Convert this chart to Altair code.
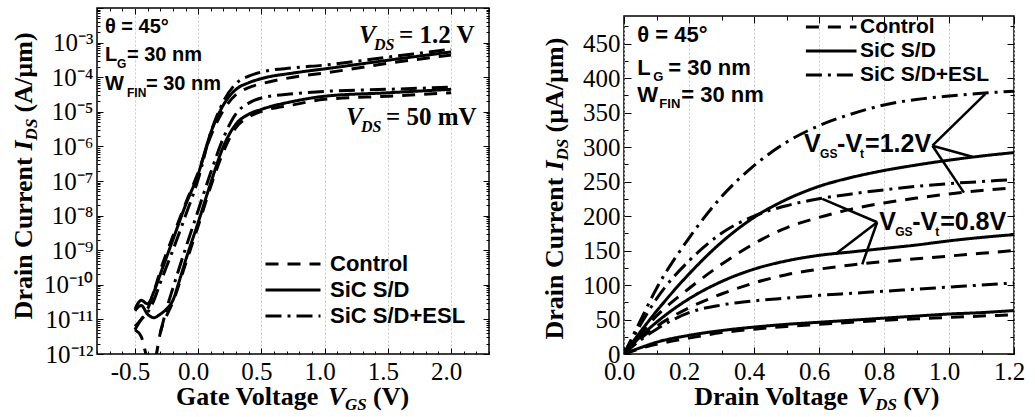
import altair as alt
import pandas as pd

SERIES = ["Control", "SiC S/D", "SiC S/D+ESL"]
DASHES = [[13, 9], [1, 0], [16, 6, 3, 6]]

# ---------------- Left panel: log10(I_DS [A/um]) vs V_GS [V] ----------------
L_CTRL_HI_V = [-0.5, -0.45, -0.4, -0.35, -0.3, -0.2, -0.1, 0.0, 0.1, 0.2, 0.3, 0.4, 0.5, 0.75, 1.0, 1.5, 2.0]
L_CTRL_HI_LOG = [-11.2, -11.0, -10.7, -10.2, -9.6, -8.6, -7.65, -6.75, -5.7, -4.95, -4.5, -4.3, -4.19, -4.0, -3.88, -3.6, -3.36]
L_SIC_HI_V = [-0.5, -0.45, -0.4, -0.35, -0.3, -0.2, -0.1, 0.0, 0.1, 0.2, 0.3, 0.4, 0.5, 0.75, 1.0, 1.5, 2.0]
L_SIC_HI_LOG = [-10.7, -10.45, -10.55, -10.2, -9.7, -8.7, -7.7, -6.8, -5.6, -4.8, -4.35, -4.16, -4.04, -3.88, -3.76, -3.51, -3.27]
L_ESL_HI_V = [-0.5, -0.45, -0.4, -0.35, -0.3, -0.2, -0.1, 0.0, 0.1, 0.2, 0.3, 0.4, 0.5, 0.75, 1.0, 1.5, 2.0]
L_ESL_HI_LOG = [-11.3, -11.0, -10.8, -10.45, -9.95, -9.0, -8.0, -6.95, -5.6, -4.7, -4.18, -3.97, -3.85, -3.73, -3.65, -3.42, -3.19]

L_CTRL_LO_V = [-0.5, -0.45, -0.42, -0.4, -0.37, -0.33, -0.3, -0.25, -0.2, -0.1, 0.0, 0.1, 0.2, 0.3, 0.4, 0.5, 0.75, 1.0, 1.5, 2.0]
L_CTRL_LO_LOG = [-11.3, -11.5, -11.9, -12.2, -12.6, -12.0, -11.4, -10.9, -10.5, -9.4, -8.3, -7.15, -6.15, -5.45, -5.15, -4.99, -4.8, -4.64, -4.55, -4.45]
L_SIC_LO_V = [-0.5, -0.45, -0.4, -0.35, -0.3, -0.25, -0.2, -0.15, -0.1, 0.0, 0.1, 0.2, 0.3, 0.4, 0.5, 0.75, 1.0, 1.5, 2.0]
L_SIC_LO_LOG = [-10.75, -10.6, -10.85, -10.95, -10.85, -10.7, -10.45, -9.9, -9.3, -8.2, -7.05, -6.0, -5.35, -5.07, -4.93, -4.7, -4.55, -4.45, -4.35]
L_ESL_LO_V = [-0.3, -0.25, -0.2, -0.1, 0.0, 0.1, 0.2, 0.3, 0.4, 0.5, 0.75, 1.0, 1.5, 2.0]
L_ESL_LO_LOG = [-11.4, -10.7, -10.1, -8.95, -7.85, -6.75, -5.75, -5.05, -4.75, -4.6, -4.48, -4.41, -4.35, -4.29]

# ---------------- Right panel: I_DS [uA/um] vs V_DS [V] ----------------
R_V = [0.0, 0.05, 0.1, 0.2, 0.3, 0.4, 0.5, 0.6, 0.7, 0.8, 0.9, 1.0, 1.1, 1.2]
R_ESL_12 = [0, 48, 95, 168, 228, 273, 307, 331, 348, 361, 369, 374, 378, 381]
R_SIC_12 = [0, 32, 62, 116, 162, 198, 224, 243, 256, 266, 274, 281, 287, 292]
R_CTRL_12 = [0, 29, 55, 95, 130, 160, 183, 198, 210, 219, 226, 232, 237, 241]
R_ESL_08 = [0, 42, 80, 135, 175, 200, 215, 225, 232, 238, 243, 247, 250, 253]
R_SIC_08 = [0, 25, 46, 80, 105, 123, 135, 143, 148, 153, 158, 164, 169, 173]
R_CTRL_08 = [0, 22, 40, 67, 87, 103, 115, 123, 129, 134, 138, 142, 146, 150]
R_ESL_04 = [0, 20, 36, 60, 71, 77, 81, 85, 88, 91, 94, 97, 100, 103]
R_SIC_04 = [0, 9, 17, 27, 34, 39, 43, 46, 49, 52, 55, 58, 60, 63]
R_CTRL_04 = [0, 8, 14, 23, 31, 36, 40, 43, 46, 49, 51, 53, 55, 57]

# pointer lines of the right panel annotations (tip -> curve)
P12_TIP = [0.949, 302]
P12_END_V = [1.112, 1.072, 1.046]
P12_END_I = [377, 286, 234]
P08_TIP = [0.779, 191]
P08_END_V = [0.610, 0.651, 0.733]
P08_END_I = [225, 145, 130]

# axis titles (text, font size, italic, offset along the text, offset across it)
Y_TITLE_L = [("Drain Current", 26, False, 0, 0), ("I", 26, True, 169, 0), ("DS", 17, True, 179, 8),
             ("(A/µm)", 26, False, 207, 0)]
Y_TITLE_R = [("Drain Current", 26, False, 0, 0), ("I", 26, True, 169, 0), ("DS", 17, True, 179, 8),
             ("(µA/µm)", 26, False, 207, 0)]
X_TITLE_L = [("Gate Voltage", 26, False, 0, 0), ("V", 26, True, 152, 0), ("GS", 17, True, 169, 8),
             ("(V)", 26, False, 197, 0)]
X_TITLE_R = [("Drain Voltage", 26, False, 0, 0), ("V", 26, True, 163, 0), ("DS", 17, True, 181, 8),
             ("(V)", 26, False, 209, 0)]

SANS = "Liberation Sans"
SERIF = "Liberation Serif"
LEGEND_LINE = "M-3.4,0H1"


def curves_df(curves, log=False):
    rows = []
    for cid, (series, xs, ys) in enumerate(curves):
        for xv, yv in zip(xs, ys):
            rows.append({"curve": cid, "series": series, "x": xv,
                         "y": 10 ** yv if log else yv})
    return pd.DataFrame(rows)


left_df = curves_df([
    ("Control", L_CTRL_HI_V, L_CTRL_HI_LOG),
    ("SiC S/D", L_SIC_HI_V, L_SIC_HI_LOG),
    ("SiC S/D+ESL", L_ESL_HI_V, L_ESL_HI_LOG),
    ("Control", L_CTRL_LO_V, L_CTRL_LO_LOG),
    ("SiC S/D", L_SIC_LO_V, L_SIC_LO_LOG),
    ("SiC S/D+ESL", L_ESL_LO_V, L_ESL_LO_LOG),
], log=True)

right_df = curves_df([
    ("SiC S/D+ESL", R_V, R_ESL_12), ("SiC S/D", R_V, R_SIC_12), ("Control", R_V, R_CTRL_12),
    ("SiC S/D+ESL", R_V, R_ESL_08), ("SiC S/D", R_V, R_SIC_08), ("Control", R_V, R_CTRL_08),
    ("SiC S/D+ESL", R_V, R_ESL_04), ("SiC S/D", R_V, R_SIC_04), ("Control", R_V, R_CTRL_04),
])


def tick_layer(df, xs, ys, xo, yo, xvals, yvals, size):
    return alt.Chart(df).mark_point(opacity=0, clip=True).encode(
        x=alt.X("x:Q", scale=xs, axis=alt.Axis(orient=xo, values=xvals, tickSize=size, offset=-size,
                                               labels=False, domain=False, grid=False, title=None,
                                               tickColor="black", tickWidth=1)),
        y=alt.Y("y:Q", scale=ys, axis=alt.Axis(orient=yo, values=yvals, tickSize=size, offset=-size,
                                               labels=False, domain=False, grid=False, title=None,
                                               tickColor="black", tickWidth=1)),
    )


def text_piece(xv, yv, text, xs, ys, font, size, dx=0, dy=0, italic=False, angle=0):
    return alt.Chart(pd.DataFrame({"x": [xv], "y": [yv], "t": [text]})).mark_text(
        align="left", baseline="middle", font=font, fontSize=size, fontWeight="bold",
        fontStyle="italic" if italic else "normal", dx=dx, dy=dy, color="black", angle=angle
    ).encode(x=alt.X("x:Q", scale=xs, axis=None), y=alt.Y("y:Q", scale=ys, axis=None), text="t:N")


def title_pieces(xv, yv, pieces, xs, ys, angle=0):
    return [text_piece(xv, yv, t, xs, ys, SERIF, s, dx=dx, dy=dy, italic=it, angle=angle)
            for (t, s, it, dx, dy) in pieces]


def info_block(xv, ys_vals, xs, ys, size, sub, dxs):
    parts = [text_piece(xv, ys_vals[0], "θ = 45°", xs, ys, SANS, size)]
    parts += [text_piece(xv, ys_vals[1], "L", xs, ys, SANS, size),
              text_piece(xv, ys_vals[1], "G", xs, ys, SANS, sub, dx=dxs[0], dy=9),
              text_piece(xv, ys_vals[1], "= 30 nm", xs, ys, SANS, size, dx=dxs[1])]
    parts += [text_piece(xv, ys_vals[2], "W", xs, ys, SANS, size),
              text_piece(xv, ys_vals[2], "FIN", xs, ys, SANS, sub, dx=dxs[2], dy=9),
              text_piece(xv, ys_vals[2], "= 30 nm", xs, ys, SANS, size, dx=dxs[3])]
    return parts


def line_layer(df, xs, ys, xaxis, yaxis, legend):
    return alt.Chart(df).mark_line(color="black", strokeWidth=3, clip=True, interpolate="monotone").encode(
        x=alt.X("x:Q", scale=xs, axis=xaxis),
        y=alt.Y("y:Q", scale=ys, axis=yaxis),
        strokeDash=alt.StrokeDash("series:N", scale=alt.Scale(domain=SERIES, range=DASHES), legend=legend),
        detail="curve:N",
    )


def legend_params(lx, ly, size, symw, loff):
    return alt.Legend(title=None, orient="none", legendX=lx, legendY=ly, symbolType=LEGEND_LINE,
                      symbolSize=symw * symw, symbolStrokeWidth=3, symbolStrokeColor="black",
                      labelFont=SANS, labelFontWeight="bold", labelFontSize=size, labelColor="black",
                      rowPadding=1, labelOffset=loff, padding=0)


# ---------------- Left chart ----------------
xsL = alt.Scale(domain=[-0.8, 2.3], nice=False, zero=False)
ysL = alt.Scale(type="log", domain=[1e-12, 1e-2], nice=False)
L_XMAJ = [-0.5, 0.0, 0.5, 1.0, 1.5, 2.0]
L_XMIN = [round(-0.8 + 0.1 * i, 1) for i in range(32) if round(-0.8 + 0.1 * i, 1) not in L_XMAJ]
L_YMAJ = [10.0 ** e for e in range(-12, -1)]
L_YMIN = [m * 10.0 ** e for e in range(-12, -2) for m in range(2, 10)]
SUP = "['10⁻¹²','10⁻¹¹','10⁻¹⁰','10⁻⁹','10⁻⁸','10⁻⁷','10⁻⁶','10⁻⁵','10⁻⁴','10⁻³','']"

left_lines = line_layer(
    left_df, xsL, ysL,
    alt.Axis(values=L_XMAJ, labelExpr="replace(format(datum.value, '.1f'), '−', '-')", ticks=False,
             domain=False, grid=True, gridColor="#c8c8c8", gridDash=[2, 2], labelPadding=5,
             labelOffset=-5, labelFlush=False, title=None),
    alt.Axis(values=L_YMAJ[:-1], labelExpr=SUP + "[round(log(datum.value)/LN10)+12]", ticks=False,
             domain=False, grid=False, labelPadding=4, title=None),
    legend_params(197, 242, 22, 25, 8),
)

left_layers = [left_lines,
               tick_layer(left_df, xsL, ysL, "bottom", "left", L_XMAJ, L_YMAJ, 6),
               tick_layer(left_df, xsL, ysL, "top", "right", L_XMAJ, L_YMAJ, 6),
               tick_layer(left_df, xsL, ysL, "bottom", "left", L_XMIN, L_YMIN, 3),
               tick_layer(left_df, xsL, ysL, "top", "right", L_XMIN, L_YMIN, 3)]
left_layers += info_block(-0.737, [2.8e-3, 4.4e-4, 6.3e-5], xsL, ysL, 20, 12, [12, 22, 22, 41])
for (xv, yv, rest) in [(1.272, 1.65e-3, "= 1.2 V"), (1.169, 7.1e-6, "= 50 mV")]:
    left_layers += [text_piece(xv, yv, "V", xsL, ysL, SERIF, 25, italic=True),
                    text_piece(xv, yv, "DS", xsL, ysL, SERIF, 16, dx=15, dy=10, italic=True),
                    text_piece(xv, yv, rest, xsL, ysL, SERIF, 25, dx=40)]
left_layers += title_pieces(-1.377, 1e-11, Y_TITLE_L, xsL, ysL, angle=270)
left_layers += title_pieces(-0.175, 5.6e-14, X_TITLE_L, xsL, ysL)

left = alt.layer(*left_layers).resolve_axis(x="independent", y="independent").properties(width=392, height=346)

# ---------------- Right chart ----------------
xsR = alt.Scale(domain=[0, 1.2], nice=False, zero=False)
ysR = alt.Scale(domain=[0, 490], nice=False, zero=False)
R_XMAJ = [0.0, 0.2, 0.4, 0.6, 0.8, 1.0, 1.2]
R_XMIN = [0.1, 0.3, 0.5, 0.7, 0.9, 1.1]
R_YMAJ = list(range(0, 451, 50))
R_YMIN = list(range(25, 490, 50))

right_lines = line_layer(
    right_df, xsR, ysR,
    alt.Axis(values=R_XMAJ, format=".1f", ticks=False, domain=False, grid=True, gridColor="#c8c8c8",
             gridDash=[2, 2], labelPadding=5, labelOffset=-5, labelFlush=False, title=None),
    alt.Axis(values=R_YMAJ, format="d", ticks=False, domain=False, grid=False, labelPadding=4, title=None),
    legend_params(208, 6, 21, 23, 2),
)

ptr_rows = ([{"x": P12_TIP[0], "y": P12_TIP[1], "x2": v, "y2": i} for v, i in zip(P12_END_V, P12_END_I)] +
            [{"x": P08_TIP[0], "y": P08_TIP[1], "x2": v, "y2": i} for v, i in zip(P08_END_V, P08_END_I)])
pointers = alt.Chart(pd.DataFrame(ptr_rows)).mark_rule(color="black", strokeWidth=2.5).encode(
    x=alt.X("x:Q", scale=xsR, axis=None), y=alt.Y("y:Q", scale=ysR, axis=None), x2="x2:Q", y2="y2:Q")

right_layers = [right_lines,
                tick_layer(right_df, xsR, ysR, "bottom", "left", R_XMAJ, R_YMAJ, 7),
                tick_layer(right_df, xsR, ysR, "top", "right", R_XMAJ, R_YMAJ, 7),
                tick_layer(right_df, xsR, ysR, "bottom", "left", R_XMIN, R_YMIN, 4),
                tick_layer(right_df, xsR, ysR, "top", "right", R_XMIN, R_YMIN, 4),
                pointers]
right_layers += info_block(0.041, [462, 415, 375], xsR, ysR, 22, 13, [16, 31, 22, 44])
for (xv, yv, rest) in [(0.554, 304, "=1.2V"), (0.785, 191, "=0.8V")]:
    right_layers += [text_piece(xv, yv, "V", xsR, ysR, SANS, 25),
                     text_piece(xv, yv, "GS", xsR, ysR, SANS, 12, dx=16, dy=10),
                     text_piece(xv, yv, "-V", xsR, ysR, SANS, 25, dx=33),
                     text_piece(xv, yv, "t", xsR, ysR, SANS, 12, dx=56, dy=10),
                     text_piece(xv, yv, rest, xsR, ysR, SANS, 25, dx=61)]
right_layers += title_pieces(-0.211, 21, Y_TITLE_R, xsR, ysR, angle=270)
right_layers += title_pieces(0.216, -63, X_TITLE_R, xsR, ysR)

right = alt.layer(*right_layers).resolve_axis(x="independent", y="independent").properties(width=390, height=338)

# invisible spacer that lowers the right frame a little below the left one
spacer = alt.Chart(pd.DataFrame({"x": [0], "y": [0]})).mark_point(
    opacity=0, size=0, strokeWidth=0, clip=True
).encode(
    x=alt.X("x:Q", axis=None), y=alt.Y("y:Q", axis=None)
).properties(width=1, height=4, view=alt.ViewBackground(stroke="transparent"))

right_col = alt.vconcat(spacer, right, spacing=1)

chart = alt.hconcat(left, right_col, spacing=50).resolve_scale(strokeDash="independent").resolve_legend(
    strokeDash="independent").configure(padding={"left": 10, "top": 6, "right": 5, "bottom": 5}).configure_view(
    stroke="black", strokeWidth=1.5).configure_axis(
    labelFont=SERIF, labelFontSize=25, labelColor="black")

chart.save("out.html", embed_options={"renderer": "svg", "actions": False})
